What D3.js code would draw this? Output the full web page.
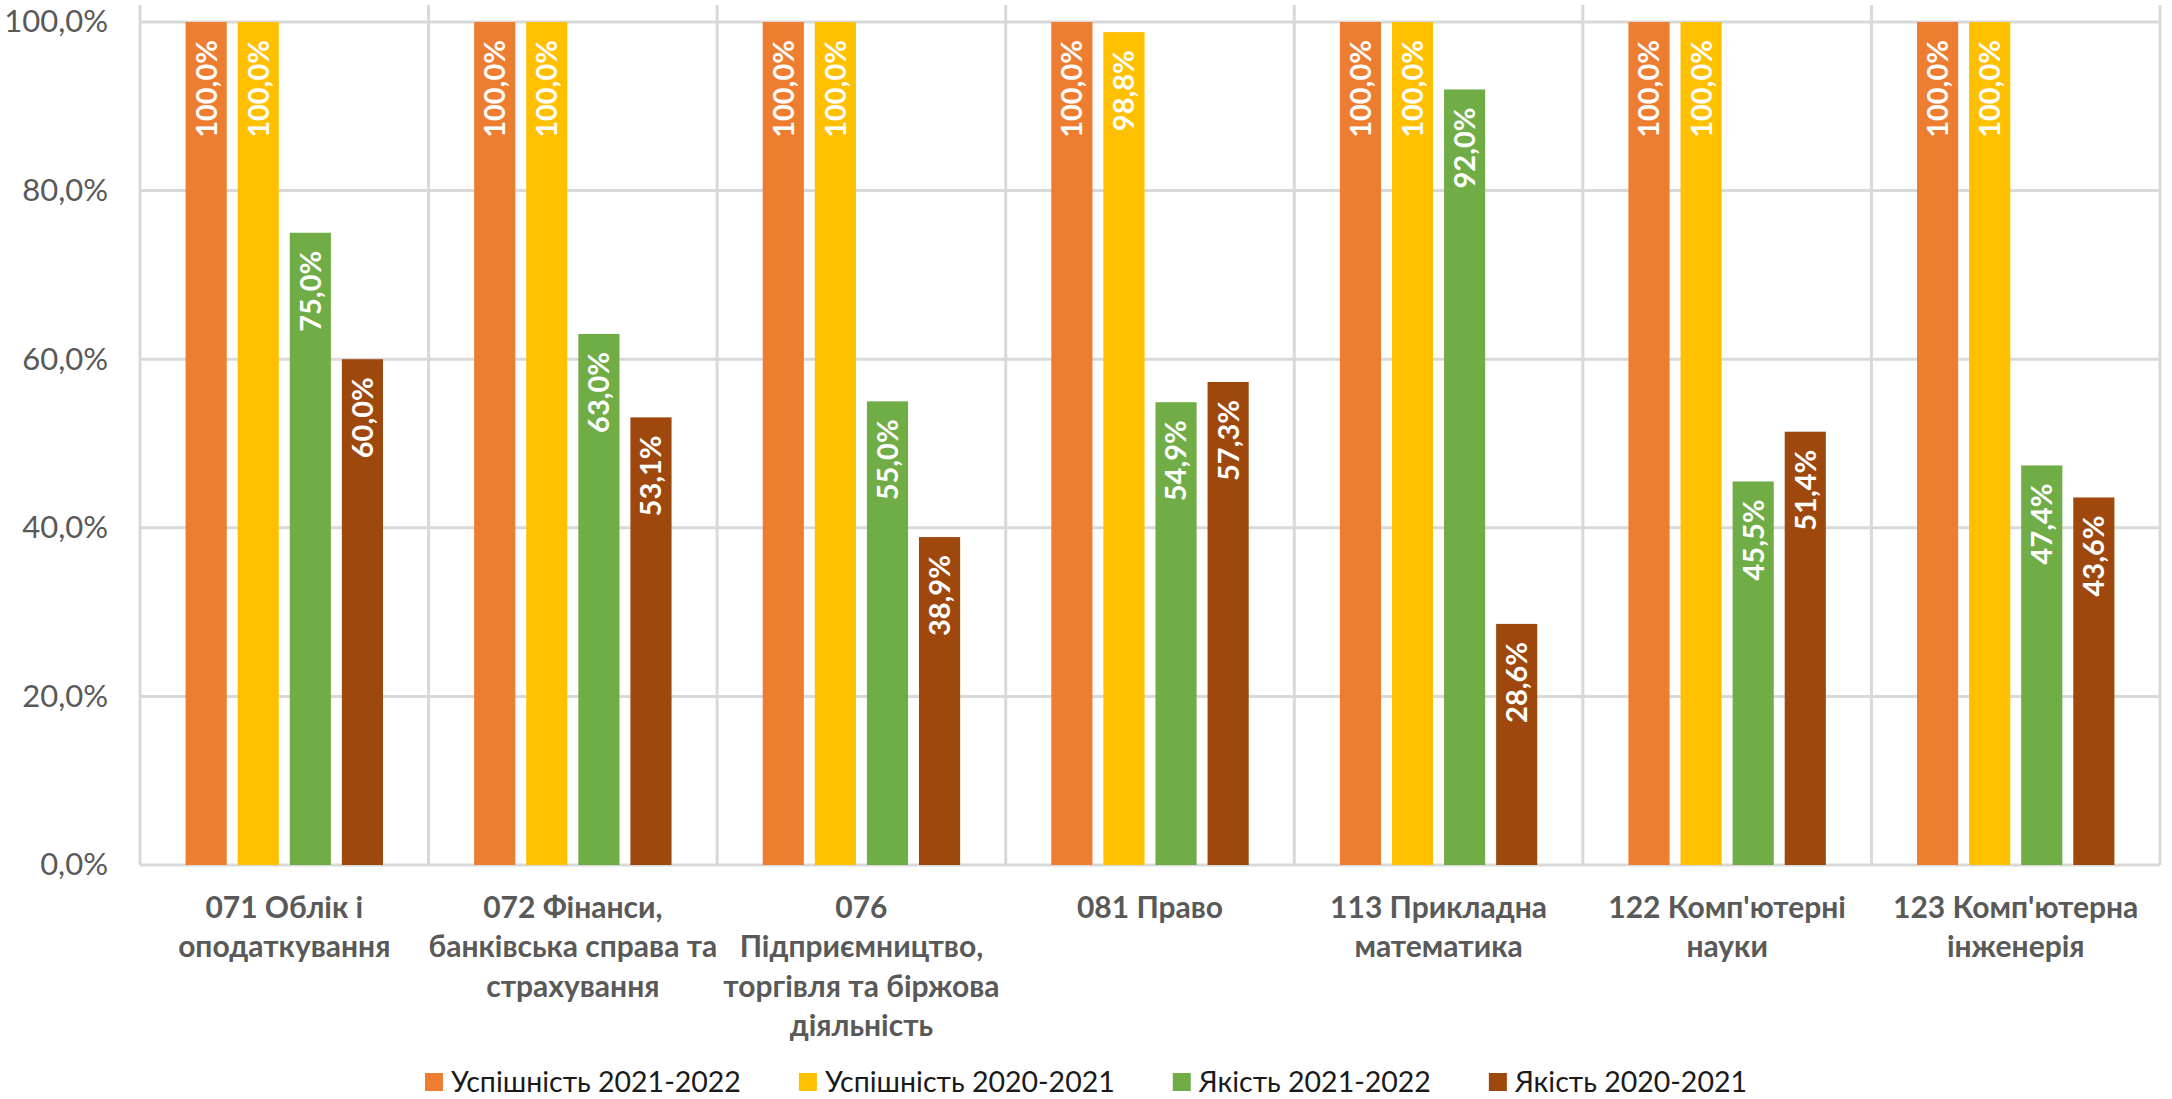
<!DOCTYPE html>
<html>
<head>
<meta charset="utf-8">
<script src="https://cdn.jsdelivr.net/npm/d3@7"></script>
<style>
  html, body { margin: 0; padding: 0; background: #fff; }
  svg { display: block; }
  text { font-family: Lato, "Open Sans", "Noto Sans", sans-serif; }
</style>
</head>
<body>
<svg id="chart" width="2172" height="1099"></svg>
<script>
// ---- data ----
const categories = [
  ["071 Облік і", "оподаткування"],
  ["072 Фінанси,", "банківська справа та", "страхування"],
  ["076", "Підприємництво,", "торгівля та біржова", "діяльність"],
  ["081 Право"],
  ["113 Прикладна", "математика"],
  ["122 Комп'ютерні", "науки"],
  ["123 Комп'ютерна", "інженерія"]
];
const seriesNames = ["Успішність 2021-2022", "Успішність 2020-2021", "Якість 2021-2022", "Якість 2020-2021"];
const success2122 = [100, 100, 100, 100, 100, 100, 100];
const success2021 = [100, 100, 100, 98.8, 100, 100, 100];
const quality2122 = [75.0, 63.0, 55.0, 54.9, 92.0, 45.5, 47.4];
const quality2021 = [60.0, 53.1, 38.9, 57.3, 28.6, 51.4, 43.6];
const yTicks = [0, 20, 40, 60, 80, 100];
const colors = ["#ED7D31", "#FFC000", "#70AD47", "#9E480E"];

const seriesValues = [success2122, success2021, quality2122, quality2021];
const fmt = v => v.toFixed(1).replace(".", ",") + "%";

// ---- layout ----
const svg = d3.select("#chart");
const W = 2172, H = 1099;
const plotL = 140, plotR = 2160, plotTop = 5, y0px = 865, y100px = 22;

const x0 = d3.scaleBand().domain(d3.range(categories.length)).range([plotL, plotR]).padding(0);
const x1 = d3.scaleBand().domain(d3.range(seriesNames.length)).range([0, x0.bandwidth()])
  .paddingInner(0.21).paddingOuter(0.875);
const y = d3.scaleLinear().domain([0, 100]).range([y0px, y100px]);

const grid = svg.append("g");
grid.selectAll("line.h").data(yTicks).enter().append("line")
  .attr("x1", plotL).attr("x2", plotR)
  .attr("y1", d => y(d)).attr("y2", d => y(d))
  .attr("stroke", "#d9d9d9").attr("stroke-width", 3);
const bounds = d3.range(categories.length + 1).map(i => i < categories.length ? x0(i) : plotR);
grid.selectAll("line.v").data(bounds).enter().append("line")
  .attr("x1", d => d).attr("x2", d => d)
  .attr("y1", plotTop).attr("y2", y0px)
  .attr("stroke", "#d9d9d9").attr("stroke-width", 3);

// y axis labels
const yAxis = d3.axisLeft(y).tickValues(yTicks).tickFormat(d => fmt(d)).tickSize(0).tickPadding(0);
const ya = svg.append("g").attr("transform", `translate(108,0)`).call(yAxis);
ya.select(".domain").remove();
ya.selectAll("text").attr("font-size", 31).attr("fill", "#595959")
  .style("font-family", 'Lato, "Open Sans", sans-serif');

// bars
const flat = [];
categories.forEach((c, ci) => seriesValues.forEach((arr, si) => flat.push({ ci, si, v: arr[ci] })));

svg.append("g").selectAll("rect").data(flat).enter().append("rect")
  .attr("x", d => x0(d.ci) + x1(d.si))
  .attr("width", x1.bandwidth())
  .attr("y", d => y(d.v))
  .attr("height", d => y(0) - y(d.v))
  .attr("fill", d => colors[d.si]);

// bar labels
svg.append("g").selectAll("text").data(flat).enter().append("text")
  .attr("transform", d => `translate(${x0(d.ci) + x1(d.si) + x1.bandwidth() / 2},${y(d.v) + 18}) rotate(-90)`)
  .attr("text-anchor", "end")
  .attr("dy", "0.36em")
  .attr("font-size", 29)
  .attr("font-weight", "bold")
  .attr("fill", "#fff")
  .text(d => fmt(d.v));

// category labels
const cat = svg.append("g");
categories.forEach((lines, ci) => {
  const t = cat.append("text")
    .attr("x", x0(ci) + x0.bandwidth() / 2)
    .attr("y", 907)
    .attr("text-anchor", "middle")
    .attr("font-size", 30)
    .attr("font-weight", "bold")
    .attr("fill", "#595959");
  lines.forEach((ln, li) => {
    t.append("tspan").attr("x", x0(ci) + x0.bandwidth() / 2)
      .attr("y", 907 + li * 39.5).attr("dy", "0.35em").text(ln);
  });
});

// legend
const leg = svg.append("g");
const items = seriesNames.map((n, i) => {
  const g = leg.append("g");
  g.append("rect").attr("x", 0).attr("y", -9).attr("width", 18).attr("height", 18).attr("fill", colors[i]);
  const tx = g.append("text").attr("x", 26).attr("y", 0).attr("dy", "0.35em")
    .attr("font-size", 28.5).attr("fill", "#1a1a1a").text(n);
  return { g, w: 26 + tx.node().getComputedTextLength() };
});
const gap = 58;
const total = d3.sum(items, d => d.w) + gap * (items.length - 1);
let cx = W / 2 - total / 2;
items.forEach(it => { it.g.attr("transform", `translate(${cx},1082)`); cx += it.w + gap; });
</script>
</body>
</html>
